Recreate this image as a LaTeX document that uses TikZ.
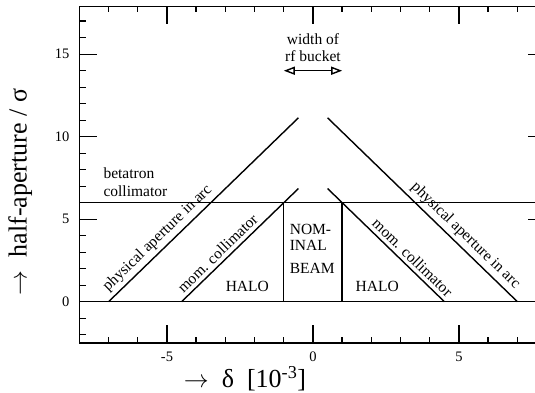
\documentclass[tikz,border=0pt]{standalone}
\usepackage{fontspec}
\setmainfont{Liberation Serif}
\usetikzlibrary{arrows.meta,positioning,calc}

\begin{document}
\begin{tikzpicture}[x=29.2pt,y=16.5pt,
      frame/.style={line width=1.4pt},
      edge/.style={line width=1.4pt},
      lbl/.style={font=\fontsize{15.5}{17}\selectfont,inner sep=3.5pt},
      ticklbl/.style={font=\fontsize{14.5}{17}\selectfont,inner sep=1pt},
      axlbl/.style={font=\fontsize{26}{30}\selectfont,inner sep=0pt},
      span/.style={{Triangle[open,length=11pt,width=8pt]}-{Triangle[open,length=11pt,width=8pt]},line width=1.4pt}]
    \useasboundingbox (-10.719,-5.533) rectangle (7.603,18.285);
    % frame with ticks
    \draw[frame] (-8,-2.5) rectangle (8,17.9);
    \foreach \i in {-7,...,7} {
      \pgfmathsetmacro\len{mod(\i,5)==0 ? 1.1 : 0.36}
      \draw[frame] (\i,-2.5) -- ++(0,\len);
      \draw[frame] (\i,17.9) -- ++(0,-\len);
    }
    \foreach \j in {-2,...,17} {
      \pgfmathsetmacro\len{mod(\j,5)==0 ? 0.62 : 0.24}
      \draw[frame] (-8,\j) -- ++(\len,0);
      \draw[frame] (8,\j) -- ++(-\len,0);
    }
    \foreach \i in {-5,0,5}
      \node[ticklbl] (xt\i) at (\i,-3.33) {\i};
    \foreach \j in {0,5,10,15}
      \node[ticklbl,anchor=east] (yt\j) at (-8.3,\j) {\j};
    \node[axlbl] (xlab) at (-2.33,-4.65) {$\rightarrow$\ \ δ\ \ [10\textsuperscript{-3}]};
    \node[axlbl,rotate=90] (ylab) at (-10.03,6.65) {$\rightarrow$\ \ half-aperture / σ};

    % apertures
    \coordinate (pl0) at (-7,0);
    \coordinate (pl1) at (-0.5,11.143);
    \coordinate (pr1) at (0.5,11.143);
    \coordinate (pr0) at (7,0);
    \coordinate (ml0) at (-4.5,0);
    \coordinate (ml1) at (-0.5,6.857);
    \coordinate (mr1) at (0.5,6.857);
    \coordinate (mr0) at (4.5,0);
    \coordinate (bl0) at (-1,0);
    \coordinate (bl1) at (-1,6);
    \coordinate (br0) at (1,0);
    \coordinate (br1) at (1,6);
    \draw[edge] (-8,0) -- (8,0);
    \draw[edge] (-8,6) -- (8,6);
    \draw[edge] (pl0) -- node[lbl,sloped,above,pos=0.30] {physical aperture in arc} (pl1);
    \draw[edge] (pr1) -- node[lbl,sloped,above,pos=0.685] {physical aperture in arc} (pr0);
    \draw[edge] (ml0) -- node[lbl,sloped,above,pos=0.365] {mom. collimator} (ml1);
    \draw[edge] (mr1) -- node[lbl,sloped,above,pos=0.67] {mom. collimator} (mr0);
    \draw[edge] (bl0) -- (bl1);
    \draw[edge] (br0) -- (br1);

    % labels
    \node[lbl,align=left,anchor=west,font=\fontsize{15.5}{18.7}\selectfont] (beta) at (-7.3,7.25) {betatron\\collimator};
    \node[lbl,align=left,anchor=west,font=\fontsize{15.5}{15.7}\selectfont,inner sep=0pt] (nom) at (-0.8,3.19) {NOM-\\INAL\\[8pt]BEAM};
    \node[lbl] (halol) at (-2.25,0.95) {HALO};
    \node[lbl] (halor) at (2.2,0.95) {HALO};
    \node[lbl,align=center] (rf) at (0,15.4) {width of\\rf bucket};
    \coordinate (rfl) at (-1,14);
    \coordinate (rfr) at (1,14);
    \draw[span] (rfl) -- (rfr);
  \end{tikzpicture}
\end{document}
